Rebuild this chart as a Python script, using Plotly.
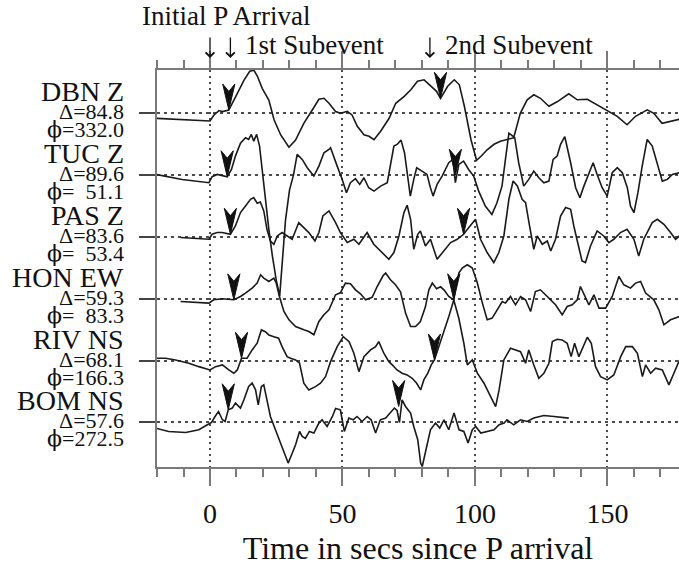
import plotly.graph_objects as go

# Stations, epicentral distance (deg) and azimuth (deg)
STATIONS = ["DBN Z", "TUC Z", "PAS Z", "HON EW", "RIV NS", "BOM NS"]
DISTANCES = ["84.8", "89.6", "83.6", "59.3", "68.1", "57.6"]
AZIMUTHS = ["332.0", "\u00a0\u00a051.1", "\u00a0\u00a053.4", "\u00a0\u00a083.3", "166.3", "272.5"]

# Seismogram samples: (time in s since P, amplitude in counts)
DBN = [(-20.5, -5), (-10, -6.7), (0, -7.7), (1.5, -1.7), (3.4, 2.7), (4.7, 1.7), (7.1, 3.3),
       (9.7, 16.7), (12.8, 33), (15, 42), (16.6, 43), (17.9, 37), (19.7, 25), (22.2, 13.3),
       (24.2, -6.7), (26.7, -21.7), (29.8, -34), (32.3, -26.7), (35.4, -10), (38.6, 3.3),
       (41.1, 14), (43, 15), (44.9, 10), (47.4, 1.7), (49.3, 0), (51.8, 2), (53.6, -1.7),
       (55.6, -13), (58.1, -21.5), (60, -23), (61.9, -26.5), (64.4, -18), (67.6, -5),
       (70.1, 10), (73.3, 17), (75.8, 23.5), (78.3, 32), (80.8, 33.5), (83.4, 27), (85.5, 22),
       (87.0, 15), (89.7, 27), (92.2, 33.5), (94.1, 28.5), (96, 7), (98.5, -26.5), (100.6, -47),
       (102.3, -43), (104.6, -36.5), (107.2, -31), (109.6, -28), (112.1, -26.5), (114.6, -24.5),
       (117.1, 0), (119.7, 13.5), (122.2, 18.5), (124.7, 15), (127.9, 7), (131, 11.5),
       (135.4, 19.5), (138.6, 13.5), (142.4, 14), (146.1, 8.5), (149.9, 2), (153.7, -3),
       (157.4, -11.5), (160.6, -3), (165, 3.5), (167.5, 0), (170.6, -10), (175, -7), (177.2, -6)]

TUC = [(-20.5, 0.7), (-10.5, -4.3), (-0.4, -7.6), (0.8, -1.6), (2.7, 0.7), (4.6, -0.3),
       (6.5, -1.6), (8.1, 5.7), (9.6, 19), (11.5, 32), (13.4, 37.4), (14.6, 35.7), (15.6, 40.7),
       (16.5, 34), (17.6, 40.7), (18.7, 29), (19.7, 5.7), (20.9, -27.6), (22.2, -54),
       (23.5, -80), (25.0, -105), (26.3, -121), (27.3, -90), (28.5, -45), (30, -15), (31.5, 0),
       (32.9, 20.7), (34.8, 15.7), (36.7, 7.4), (39.2, -1), (41.1, 9), (43, 22.4), (44.9, 25.7),
       (45.5, 27.4), (48, 9), (49.9, -4.3), (51.5, -17.6), (53, -7.6), (54.9, -3.6),
       (56.5, -9.3), (58.1, -2.6), (59.9, -12.6), (61.9, -16), (64.4, -11), (66.9, -7.6),
       (68.1, 9), (69.4, 29), (70.6, 30.7), (72.1, 35), (73.4, 22.4), (74.6, -4.3), (75.6, -21),
       (76.9, -4.3), (78, 7.4), (80, 4), (81.9, 0.7), (83.2, -12.6), (84.2, -21), (85.7, -9.3),
       (87.6, -1), (90.1, 12.4), (91.7, 15.7), (92.6, -7.6), (93.9, 10.7), (95.7, 14),
       (97.6, 5.7), (99.5, -1), (101.4, -16), (103.9, -31), (106.4, -39.3), (108.3, -27.6),
       (110.2, -11), (111.5, 15.7), (112.8, 42), (113.8, 40), (115, 37.4), (116.5, 12.4),
       (118.4, -11), (120.3, -4.3), (122.2, 4), (124.1, -2.6), (126, -7.6), (127.9, -6),
       (129.5, 15.7), (131, 19), (132.3, 30.7), (133.9, 38.4), (134.8, 29), (136.1, 12.4),
       (138, -12.6), (139.6, -22.6), (141.1, -11), (143, 2.4), (144.6, 12.4), (146.1, 0.7),
       (148, -12.6), (149.9, -21), (151.8, 2.4), (153.7, 7.4), (155.6, 2.4), (157.5, -12.6),
       (158.7, -31), (160, -37.6), (161.5, -17.6), (163.1, 9), (165, 35.7), (166.9, 29),
       (168.8, 12.4), (170.7, -6), (172.6, -4.3), (174.5, 0.7), (177.2, 2.4)]

PAS = [(-11.1, -0.6), (-0.4, -2.3), (0.8, 2.7), (2.7, 4.4), (4.6, 4.4), (7.7, 2.7), (9.6, 11),
       (11.5, 24.4), (13.4, 31), (15.3, 37.7), (16.5, 39.4), (17.8, 33.7), (19, 35), (20.3, 26),
       (21.5, 7.7), (22.8, -4), (24.1, -7.3), (25.4, 1), (27.2, 4.4), (29, 1), (31, -2.3),
       (33.5, 14.4), (35.4, 9.4), (37.3, 4.4), (39.6, -4), (41.1, 4.4), (42.6, 21), (44.9, 26),
       (47.4, 14.4), (49.2, 4.4), (51.8, -5.6), (54.3, -2.3), (56.2, -7.3), (59.3, 4.4),
       (61.8, -7.3), (65, -15.6), (67.5, -22.3), (69.4, -15.6), (71.3, 1), (73.2, 24.4),
       (74.4, 31.7), (75.7, 17.7), (76.9, -12.3), (78.4, 2.7), (79.4, 6), (81.3, -9),
       (83.2, -2.3), (85.7, -22.3), (88.2, -14), (90.8, -5.6), (93.3, -2.3), (95.7, 2.7),
       (97.7, 9.4), (100.2, 17.7), (102.1, -2.3), (104.6, -15.6), (107.1, -25.6), (109, -15.6),
       (110.9, 1), (112.8, 37.7), (114.4, 56), (116, 51), (117.8, 37.7), (119.1, 34.4),
       (120.6, 11), (122.2, -12.3), (123.5, 1), (125.4, -7.3), (127.3, -4), (128.6, -14),
       (130.4, -2.3), (132.3, 21), (134.2, 29.4), (136.1, 27.7), (137.3, 11), (139.2, -12.3),
       (140.4, -24), (141.7, -25.6), (143.6, -9), (146.1, 6), (148.6, 1), (150.5, -5.6),
       (152.4, -2.3), (154.9, 4.4), (157.4, 7.7), (160, -2.3), (161.8, -19), (163.7, -2.3),
       (166.9, 14.4), (168.8, 17.7), (171.3, 12.7), (173.8, 4.4), (175.7, -2.3), (177.2, 1)]

HON = [(-11.1, -2.7), (-0.4, -4.3), (1.4, -1), (4.6, 0), (9, -1), (11.5, 2.3), (13.4, 5.7),
       (15.9, 10.7), (17.8, 15.7), (19.1, 24), (20.3, 20.7), (22.2, 17.3), (24.1, 20.7),
       (25, 15.7), (26.2, 2.3), (27.9, -12.7), (29.8, -21), (32.3, -27.7), (35.4, -31),
       (37.3, -32.7), (39.2, -36), (41.1, -22.7), (43, -16), (44.9, -11), (47.4, 4),
       (49.2, 6), (51.1, 15.7), (53, 15), (54.9, 9), (56.8, 5), (58.7, -1), (61.2, 1.5),
       (63.1, 12.3), (65.3, 23), (66.3, 25.7), (68.1, 19), (70, 14), (71.9, 7), (73.8, -14.3),
       (75.7, -27.7), (77.6, -27.7), (79.4, -22.7), (81.3, -8), (82.6, 9), (83.9, 15.7),
       (85.5, 10), (87, 12), (88.3, 9), (90.1, 2.3), (92.0, -1), (92.6, 9), (93.9, 25.7),
       (95.2, 30.7), (97.1, 34), (99, 30.7), (100.9, 15.7), (102.8, -4.3), (104.6, -21),
       (106.5, -19.3), (108.4, -11), (110.3, -2.7), (111.5, -4.3), (113.4, 2.3), (115.3, -6),
       (117.2, 2.3), (119.1, -1), (121, -12.7), (122.8, 7.3), (124.7, 9), (126.6, 4),
       (128.5, -1), (130.4, -6), (132.9, -16), (134.8, -7.7), (136.7, -6), (138.6, -1),
       (139.8, 12.3), (141.4, 2.3), (143, -6), (144.9, 4), (146.8, -9.3), (149.3, -9.3),
       (151.8, 2.3), (154.3, 22.3), (156.2, 14), (158.7, 10.7), (160.6, 15.7), (162.5, 17.3),
       (164.4, 5.7), (167.5, -1), (169.4, -11), (171.3, -26), (173.8, -21), (177.2, -17.7)]

RIV = [(-20.6, 2.4), (-16.8, 2.4), (-13, 0.7), (-8, -2.6), (-4.2, -6), (0, -9.3), (2.1, -6),
       (4.7, -4.3), (7.1, -9.3), (9, -12.6), (10.3, -9.3), (11.9, 2.4), (14, 2.4), (15.9, 10.7),
       (17.8, 17.4), (19.4, 30.7), (20.9, 29), (22.2, 25.7), (24.1, 24), (25.9, 22.4),
       (27.2, 14), (29.1, 4), (30.4, 2.4), (32.3, 0.7), (33.8, -2.6), (35.4, -22.6),
       (37.3, -29.3), (39.8, -26), (41.7, -22.6), (43.6, -16), (45.5, -1), (48, 14),
       (50.3, 24), (52.5, 19), (54.3, 7.4), (56.2, -11), (58.1, 4), (60.6, 10.7), (62.5, 14),
       (63.7, 19), (65.6, 7.4), (67.5, -1), (68.8, -4.3), (70.6, -9.3), (72.5, -12.6),
       (74.4, -14.3), (76.3, -17.6), (78, -22.6), (79.5, -29.3), (80.7, -19.3), (82.2, -12.6),
       (83.5, -4.3), (84.7, 0.7), (86.4, 14), (88.2, 29), (90.1, 44), (92, 60.7), (93.9, 42.4),
       (95.8, 17.4), (97.1, -4.3), (99, 0.7), (100.9, -12.6), (103.4, -22.6), (105.9, -36),
       (107.8, -46), (109.1, -29.3), (110.9, 0.7), (113.4, 12.4), (115.3, 10.7), (117.2, 9),
       (119.1, -2.6), (120.3, 10.7), (122.2, -4.3), (124.1, -17.6), (126, -12.6), (127.9, -2.6),
       (129.2, 19), (131, 21.4), (132.9, 20.7), (134.8, 17.4), (136.3, 4), (137.6, 17.4),
       (139.2, 4), (140.8, 14), (142.4, 23.4), (143.9, 17.4), (145.5, -6), (147.4, -16),
       (149.9, -19.3), (152.4, -14.3), (155, 4), (156.9, 14), (159.4, 14), (161.3, 7.4),
       (163.2, -16), (164.4, -4.3), (166.3, -12.6), (168.2, -7.6), (170.7, -9.3),
       (173.2, -24.3), (175.1, -12.6), (177.2, 0.7)]

BOM = [(-20.6, -5.6), (-15.6, -9), (-9.2, -10), (-4.2, -7.3), (-1, -2.3), (0.6, 0), (1.9, 6),
       (3.2, 11), (4.7, 2.7), (5.7, 1), (6.9, 12.7), (8.4, 14.4), (9.6, 19.4), (11.5, 14.4),
       (12.8, 22.7), (14.6, 36), (15.9, 39.4), (17.2, 32.7), (18.2, 17.7), (19.4, 36),
       (20.3, 37.7), (21.6, 22.7), (22.8, 6), (24.7, -7.3), (26.6, -20.6), (28.5, -34),
       (29.5, -40.6), (30.8, -32.3), (32.3, -22.3), (33.8, -9), (34.8, -14), (36, -16),
       (37.5, -9), (39.2, -10.6), (41.1, -0.6), (42.3, 2.7), (44.2, -4), (46.2, 6), (47.4, 14),
       (49.2, 12.7), (50.7, -9), (52.4, 4.4), (54, 2.7), (55.5, 6), (57.4, 1), (59.3, 6),
       (60.8, 2.7), (62.5, -10.6), (64.3, 2.7), (66.3, 4.4), (68.1, 9.4), (69.6, 14.4),
       (70.6, 12), (71.5, 0), (72.5, 22.7), (73.8, 16), (75.7, 9.4), (76.9, -4), (78.4, -17.3),
       (79.5, -40.6), (80.1, -44), (81.4, -27.3), (83.2, -7.3), (85.1, -0.6), (86.7, -5.6),
       (88.3, 2.7), (90.1, -7.3), (92.1, 9.4), (94, -7.3), (95.8, -9), (97.4, -20.6),
       (99, -7.3), (100.3, -4), (102.2, -10.6), (104.6, -9), (107.2, -7.3), (109.1, -2.3),
       (111, -0.6), (112.1, 2.7), (114.6, -2.3), (117.2, 2.7), (119.7, 1), (122.2, 4.4),
       (126, 7), (129.8, 6), (132.3, 5), (135.4, 4.4)]

TRACES = [DBN, TUC, PAS, HON, RIV, BOM]

# Subevent picks per station: (time, amplitude in counts)
PICKS = [[(7.1, 3.3), (87.0, 15)],
         [(6.5, -1.6), (92.6, 0)],
         [(7.7, 2.7), (95.7, 2.7)],
         [(9.0, -1), (92.0, -1)],
         [(11.9, 2.4), (84.7, 0.7)],
         [(6.9, 12.7), (71.2, 16)]]

# Event markers along the top: arrow times and labels
EVENT_ARROWS = [0, 7.7, 83]
EVENT_LABELS = [(12.6, "1st Subevent"), (88.1, "2nd Subevent")]

COUNTS_PER_TRACE = 61.85      # amplitude that spans one trace spacing
PICK_HALF_WIDTH = 2.3         # s
PICK_HEIGHT = 0.42            # trace spacings
PICK_NOTCH = 0.30

FONT = "Liberation Serif, Times New Roman, serif"
PHI = "<span style='font-family:DejaVu Serif'>\u03d5</span>"
AXIS_GREY = "#7a7a7a"
GRID = "#4a4a4a"
LABEL_X = -0.0613             # right edge of the station labels (paper)

fig = go.Figure()

for k, samples in enumerate(TRACES):
    t = [s[0] for s in samples]
    y = [-k + s[1] / COUNTS_PER_TRACE for s in samples]
    fig.add_trace(go.Scatter(x=t, y=y, mode="lines",
                             line=dict(color="#1a1a1a", width=1.6),
                             hoverinfo="skip", showlegend=False))

for k, picks in enumerate(PICKS):
    for tp, ap in picks:
        yt = -k + ap / COUNTS_PER_TRACE
        xs = [tp, tp - PICK_HALF_WIDTH, tp, tp + PICK_HALF_WIDTH, tp]
        ys = [yt, yt + PICK_HEIGHT, yt + PICK_NOTCH, yt + PICK_HEIGHT, yt]
        fig.add_trace(go.Scatter(x=xs, y=ys, mode="lines", fill="toself",
                                 fillcolor="#111111", line=dict(color="#111111", width=1),
                                 hoverinfo="skip", showlegend=False))

annotations = []
for k, (name, dist, az) in enumerate(zip(STATIONS, DISTANCES, AZIMUTHS)):
    annotations.append(dict(x=LABEL_X, y=-k + 0.35, xref="paper", yref="y", text=name,
                            xanchor="right", yanchor="middle", showarrow=False, borderpad=0,
                            font=dict(family=FONT, size=28, color="#111")))
    annotations.append(dict(x=LABEL_X, y=-k + 0.025, xref="paper", yref="y", text="\u0394=" + dist,
                            xanchor="right", yanchor="middle", showarrow=False, borderpad=0,
                            font=dict(family=FONT, size=22, color="#111")))
    annotations.append(dict(x=LABEL_X, y=-k - 0.265, xref="paper", yref="y", text=PHI + "=" + az,
                            xanchor="right", yanchor="middle", showarrow=False, borderpad=0,
                            font=dict(family=FONT, size=22, color="#111")))

annotations.append(dict(x=-0.0326, y=1.136, xref="paper", yref="paper", text="Initial P Arrival",
                        xanchor="left", yanchor="middle", showarrow=False,
                        font=dict(family=FONT, size=27, color="#111")))
for ta in EVENT_ARROWS:
    annotations.append(dict(x=ta, y=1.030, xref="x", yref="paper", text="",
                            showarrow=True, arrowhead=4, arrowsize=1.3, arrowwidth=1.3,
                            arrowcolor="#111", ax=0, ay=-22, standoff=0))
for tl, label in EVENT_LABELS:
    annotations.append(dict(x=tl, y=1.062, xref="x", yref="paper", text=label,
                            xanchor="left", yanchor="middle", showarrow=False,
                            font=dict(family=FONT, size=27, color="#111")))

fig.update_layout(
    width=679, height=566,
    margin=dict(l=157, r=0, t=70, b=99),
    paper_bgcolor="white", plot_bgcolor="white",
    font=dict(family=FONT, color="#111"),
    annotations=annotations,
    xaxis=dict(range=[-20, 177], tickvals=[0, 50, 100, 150],
               ticks="outside", ticklen=17, tickwidth=2, tickcolor=AXIS_GREY,
               showline=True, linecolor=AXIS_GREY, linewidth=2, mirror="ticks",
               minor=dict(dtick=10, tick0=0, ticks="outside", ticklen=8, tickwidth=2,
                          tickcolor=AXIS_GREY, showgrid=False),
               showgrid=True, gridcolor=GRID, gridwidth=1.5, griddash="2px,4px",
               zeroline=False, tickfont=dict(family=FONT, size=28, color="#111"),
               ticklabelstandoff=3,
               title=dict(text="Time in secs since P arrival", standoff=12,
                          font=dict(family=FONT, size=32, color="#111"))),
    yaxis=dict(range=[-5.72, 0.70], tickvals=[0, -1, -2, -3, -4, -5],
               ticks="outside", ticklen=16, tickwidth=2, tickcolor="#444",
               showticklabels=False, showline=True, linecolor=AXIS_GREY, linewidth=2,
               showgrid=True, gridcolor=GRID, gridwidth=1.5, griddash="3px,4px",
               zeroline=False),
)

fig.write_html("out.html")
